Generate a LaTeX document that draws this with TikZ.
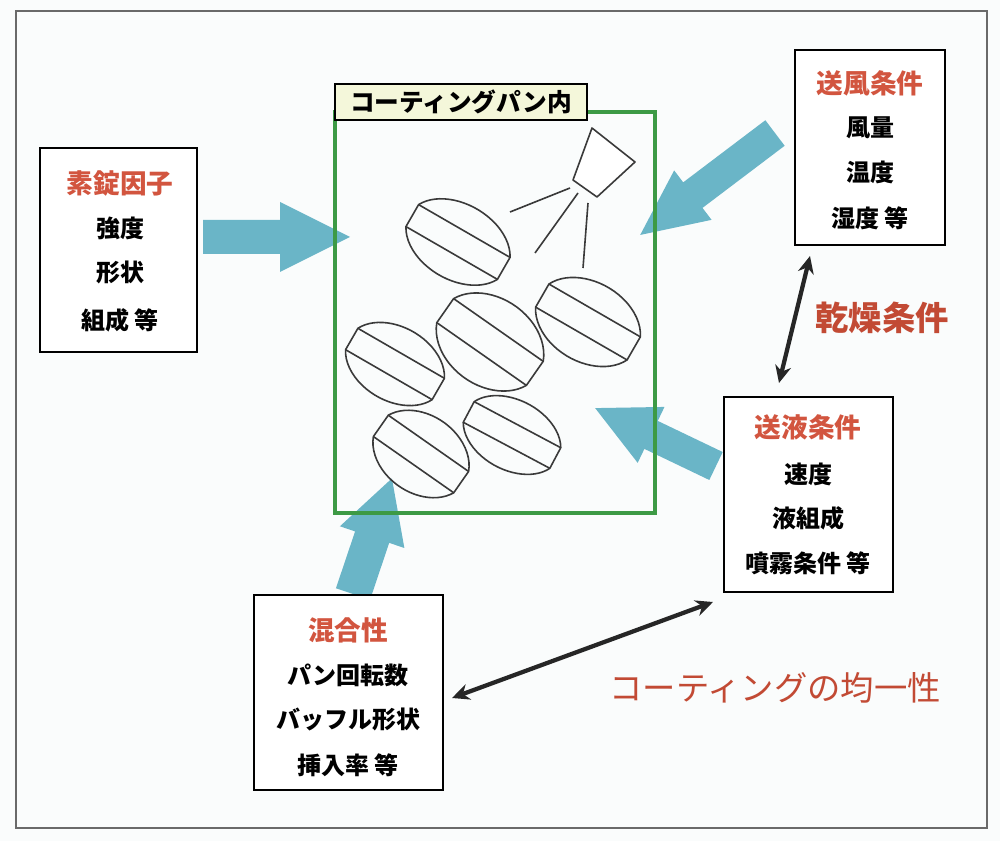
\documentclass[tikz,border=0pt]{standalone}
\usepackage{fontspec}
\setmainfont{Noto Sans CJK JP}
\usetikzlibrary{arrows.meta}
\definecolor{bg}{HTML}{FAFCFC}
\definecolor{titlered}{HTML}{D2553F}
\definecolor{labelred}{HTML}{C24A34}
\definecolor{arrowblue}{HTML}{6AB5C7}
\definecolor{pangreen}{HTML}{3D9A45}
\definecolor{framegray}{HTML}{6A6A6A}
\definecolor{labelfill}{HTML}{F4F7DA}
\definecolor{inkgray}{HTML}{3A3A3A}
\tikzset{
  factorbox/.style={draw=black, line width=1.8pt, fill=white, inner sep=0pt},
  titletext/.style={font=\bfseries\fontsize{20}{24}\selectfont, text=titlered, inner sep=0pt},
  itemtext/.style={font=\bfseries\fontsize{18}{22}\selectfont, text=black, inner sep=0pt},
  bigred/.style={font=\fontsize{25}{30}\selectfont, text=labelred, inner sep=0pt},
  dblarrow/.style={draw=black!85, line width=3.2pt, {Stealth[length=13pt,width=12pt]}-{Stealth[length=13pt,width=12pt]}},
  tabletline/.style={draw=inkgray, line width=1.2pt, line join=round},
  pics/fatarrow/.style n args={4}{code={
    \fill[arrowblue] (0,-#2) -- (#1-#4,-#2) -- (#1-#4,-#3) -- (#1,0) -- (#1-#4,#3) -- (#1-#4,#2) -- (0,#2) -- cycle;
  }},
  pics/tablet/.style 2 args={code={
    \draw[tabletline] ({0.943*#1},{#2/3}) arc[start angle=19.47, end angle=160.53, x radius=#1, y radius=#2]
      -- ({-0.943*#1},{-#2/3}) arc[start angle=199.47, end angle=340.53, x radius=#1, y radius=#2] -- cycle;
    \draw[tabletline] ({-0.943*#1},{#2/3}) -- ({0.943*#1},{#2/3});
    \draw[tabletline] ({-0.943*#1},{-#2/3}) -- ({0.943*#1},{-#2/3});
  }}
}
\begin{document}
\begin{tikzpicture}[x=0.75pt,y=-0.75pt]
\useasboundingbox (0,0) rectangle (1000,841);
\fill[bg] (0,0) rectangle (1000,841);
% outer frame
\draw[framegray, line width=1.7pt] (16,11) rectangle (987,828);

% blue block arrows
\pic at (203,237) {fatarrow={147}{17}{35}{70}};
\pic[rotate=217.1] at (775,133) {fatarrow={169}{16}{31}{66}};
\pic[rotate=154.4] at (716,466) {fatarrow={134}{15.5}{31}{62}};
\pic[rotate=71.4] at (353,594) {fatarrow={122}{18}{34}{62}};

% coating pan
\node[draw=pangreen, line width=2.6pt, minimum width=240pt, minimum height=300.75pt, inner sep=0pt] (pan) at (495,312.5) {};

% tablets
\pic[rotate=-30] at (458,242) {tablet={56}{38}};
\pic[rotate=-30] at (588,322) {tablet={56}{40}};
\pic[rotate=-35] at (490,342) {tablet={58}{44}};
\pic[rotate=-30] at (395,364) {tablet={53}{37}};
\pic[rotate=-35] at (421,454) {tablet={52}{39}};
\pic[rotate=-28] at (512,435) {tablet={52}{35}};

% spray nozzle and spray lines
\draw[tabletline, fill=white] (592,128) -- (635,162) -- (597,197) -- (573,180) -- cycle;
\draw[tabletline] (570,188) -- (510,212);
\draw[tabletline] (578,193) -- (535,253);
\draw[tabletline] (588,203) -- (583,268);

% pan label
\node[draw=black, line width=1.5pt, fill=labelfill, minimum width=189pt, minimum height=27pt, inner sep=0pt,
      font=\bfseries\fontsize{18.5}{22}\selectfont] (panlabel) at (461,102) {コーティングパン内};

% factor boxes
\node[factorbox, minimum width=117.75pt, minimum height=153pt] (sojo) at (118.5,250) {};
\node[titletext] (sojo0) at (120,183) {素錠因子};
\node[itemtext] (sojo1) at (120,228) {強度};
\node[itemtext] (sojo2) at (120,272) {形状};
\node[itemtext] (sojo3) at (120,320) {組成 等};

\node[factorbox, minimum width=112.5pt, minimum height=146.25pt] (sofu) at (870,147.5) {};
\node[titletext] (sofu0) at (870,83) {送風条件};
\node[itemtext] (sofu1) at (870,128) {風量};
\node[itemtext] (sofu2) at (870,172) {温度};
\node[itemtext] (sofu3) at (870,218) {湿度 等};

\node[factorbox, minimum width=126.75pt, minimum height=146.25pt] (soeki) at (808.5,494.5) {};
\node[titletext] (soeki0) at (808,427) {送液条件};
\node[itemtext] (soeki1) at (808,474) {速度};
\node[itemtext] (soeki2) at (808,518) {液組成};
\node[itemtext] (soeki3) at (808,563) {噴霧条件 等};

\node[factorbox, minimum width=141.75pt, minimum height=146.25pt] (kongo) at (348.5,692.5) {};
\node[titletext] (kongo0) at (348,630) {混合性};
\node[itemtext] (kongo1) at (348,675) {パン回転数};
\node[itemtext] (kongo2) at (348,719) {バッフル形状};
\node[itemtext] (kongo3) at (348,765) {挿入率 等};

% labels
\node[bigred, font=\bfseries\fontsize{25}{30}\selectfont] (kanso) at (882,318) {乾燥条件};
\node[bigred] (kinitsu) at (775,688) {コーティングの均一性};

% double arrows
\coordinate (d1a) at (810,256);
\coordinate (d1b) at (779,383);
\draw[dblarrow] (d1a) -- (d1b);
\coordinate (d2a) at (713,602);
\coordinate (d2b) at (452,698);
\draw[dblarrow] (d2a) -- (d2b);
\end{tikzpicture}
\end{document}
